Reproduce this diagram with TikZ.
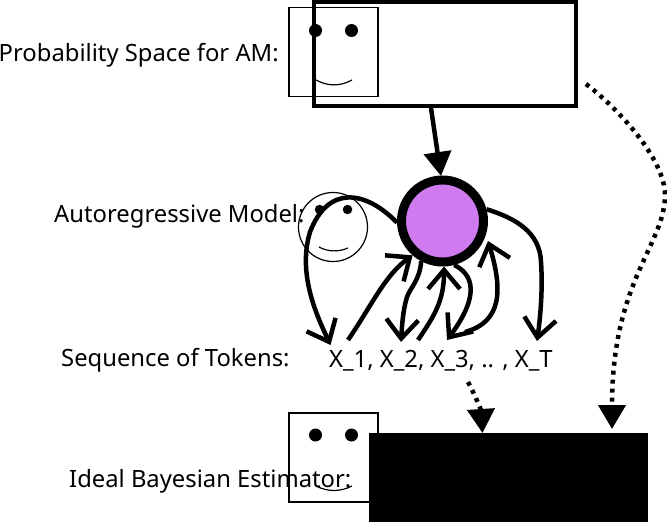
\documentclass[tikz,border=0pt]{standalone}
\usepackage{fontspec}
\setmainfont{Noto Sans}
\usetikzlibrary{arrows.meta}
\definecolor{modelfill}{HTML}{CF7BEF}
\tikzset{
  label text/.style={inner sep=0pt,font=\fontsize{23.8}{28}\selectfont,text=black},
  face box/.style={draw=black,line width=1.8pt,minimum width=89.5pt,minimum height=89pt,inner sep=0pt,outer sep=0pt},
  face round/.style={draw=black,circle,line width=1.2pt,minimum size=69pt,inner sep=0pt,outer sep=0pt},
  eye/.style={fill=black,circle,inner sep=0pt,outer sep=0pt,minimum size=13pt},
  small eye/.style={fill=black,circle,inner sep=0pt,outer sep=0pt,minimum size=9.5pt},
  mouth/.style={draw=black,line width=1.2pt},
  barb/.style={draw=black,line width=4.5pt,-{Straight Barb[length=19pt,width=32pt,line width=4.5pt]}},
  solid arrow/.style={draw=black,line width=4.5pt,-{Triangle[length=24pt,width=27pt]}},
  dotted arrow/.style={draw=black,line width=4.5pt,dash pattern=on 4pt off 5pt,-{Triangle[length=24pt,width=27pt]}},
}
\begin{document}
\begin{tikzpicture}[x=1pt,y=-1pt]
\useasboundingbox (0,0) rectangle (667,522);
% faces
\node[face box] (facetop) at (333.5,52) {};
\node[eye] (et1) at (315.5,30.5) {};
\node[eye] (et2) at (351.5,30.5) {};
\draw[mouth] (316,80) .. controls (328,86.5) and (340,86.5) .. (352,80);
\node[face round] (facemid) at (333,227) {};
\node[small eye] (em1) at (319.5,209.5) {};
\node[small eye] (em2) at (347.5,209.5) {};
\draw[mouth] (319,247) .. controls (328,252) and (339,252) .. (348,248);
\node[face box] (facebot) at (333.5,457.5) {};
\node[eye] (eb1) at (315.5,435) {};
\node[eye] (eb2) at (351.5,435) {};
\draw[mouth] (316,486) .. controls (328,492) and (340,492) .. (352,486);
% main shapes
\node[draw=black,line width=4pt,minimum width=262pt,minimum height=104pt,inner sep=0pt,outer sep=2pt] (space) at (445,54) {};
\node[draw=black,fill=modelfill,circle,line width=9pt,minimum size=82pt,inner sep=0pt,outer sep=4.5pt] (model) at (442.5,221) {};
\node[fill=black,minimum width=279pt,minimum height=89pt,inner sep=0pt,outer sep=0pt] (estimator) at (508.5,477.5) {};
% labels
\node[label text,anchor=base west] (l1) at (-1.5,61) {Probability Space for AM:};
\node[label text,anchor=base west] (l2) at (54,222) {Autoregressive Model:};
\node[label text,anchor=base west] (l3) at (61,366) {Sequence of Tokens:};
\node[label text,anchor=base west] (tokens) at (329,367) {X\_1, X\_2, X\_3, .. , X\_T};
\node[label text,anchor=base west] (l4) at (69,487) {Ideal Bayesian Estimator:};
% token coordinates
\coordinate (x1a) at (330.5,345);
\coordinate (x1b) at (348,340);
\coordinate (x2a) at (401,342);
\coordinate (x2b) at (418,340);
\coordinate (x3a) at (447,340);
\coordinate (x3b) at (465,332);
\coordinate (xT) at (537,341);
\coordinate (tokdot) at (468,382);
\coordinate (spacedot) at (586,84);
\coordinate (spacebot) at (431,108);
\coordinate (modeltop) at (441,176);
\coordinate (estA) at (482.5,433);
\coordinate (estB) at (612,429);
\coordinate (mid6) at (488,241);
% connectors
\draw[solid arrow] (spacebot) -- (modeltop);
\path[barb] (model.182) .. controls (365,190) and (328,185) .. (310,232) .. controls (297,275) and (318,318) .. (x1a);
\path[barb] (x1b) .. controls (372,305) and (385,275) .. (model.229);
\path[barb] (model.242) .. controls (420,280) and (410,288) .. (407,297) .. controls (403,310) and (402,325) .. (x2a);
\path[barb] (x2b) .. controls (435,315) and (444,300) .. (model.272);
\path[barb] (model.285) .. controls (480,278) and (473,305) .. (x3a);
\path[barb] (x3b) .. controls (502,322) and (503,290) .. (mid6);
\path[barb] (model.15) .. controls (515,218) and (540,232) .. (541,262) .. controls (543,290) and (540,320) .. (xT);
\draw[dotted arrow] (spacedot) .. controls (620,110) and (665,160) .. (665,195) .. controls (665,245) and (612,280) .. (estB);
\draw[dotted arrow] (tokdot) .. controls (475,395) and (481,410) .. (estA);
\end{tikzpicture}
\end{document}
